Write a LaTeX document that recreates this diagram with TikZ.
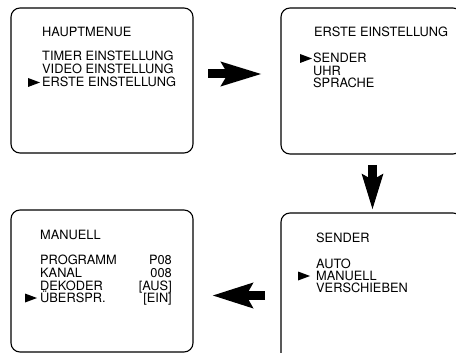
\documentclass[tikz,border=0pt]{standalone}
\usepackage{fontspec}
\setmainfont{TeX Gyre Heros}
\usetikzlibrary{arrows.meta}

\tikzset{
	screen/.style={draw, line width=1.1pt, rounded corners=9pt, inner sep=0pt},
	item/.style={anchor=base west, inner sep=0pt, font=\fontsize{12.8}{13}\selectfont},
	value/.style={item, anchor=base east},
	bigarrow/.style={line width=9pt, -{Stealth[length=40pt, width=23pt, inset=6pt]}},
}
\newcommand{\pointer}[2]{\fill (#1,#2) -- ++(12,-4.5) -- ++(-12,-4.5) -- cycle;}

\begin{document}
\begin{tikzpicture}[x=1pt, y=-1pt]
	\useasboundingbox (0,0) rectangle (456,353);

	\node[screen, minimum width=182pt, minimum height=145pt] (haupt) at (102,80.5) {};
	\node[screen, minimum width=181pt, minimum height=146pt] (erste) at (371.5,81) {};
	\node[screen, minimum width=181pt, minimum height=153pt] (sender) at (371.5,289.5) {};
	\node[screen, minimum width=182pt, minimum height=142pt] (manuell) at (102,281) {};

	\coordinate (R1) at (208,74);
	\coordinate (R2) at (262,74);
	\coordinate (D1) at (372.5,165);
	\coordinate (D2) at (372.5,210);
	\coordinate (L1) at (265,295.5);
	\coordinate (L2) at (212,295.5);

	\draw [bigarrow] (R1) -- (R2);
	\draw [bigarrow, -{Stealth[length=35pt, width=20pt, inset=5pt]}] (D1) -- (D2);
	\draw [bigarrow, -{Stealth[length=40pt, width=24pt, inset=6pt]}] (L1) -- (L2);

	% Hauptmenue
	\node[item] (hauptTitle) at (42,37) {HAUPTMENUE};
	\foreach \entry [count=\i] in {TIMER EINSTELLUNG, VIDEO EINSTELLUNG, ERSTE EINSTELLUNG}
		\node[item] (haupt\i) at (42,48+13*\i) {\entry};
	\pointer{28}{87}

	% Erste Einstellung
	\node[item] (ersteTitle) at (314,37) {ERSTE EINSTELLUNG};
	\foreach \entry [count=\i] in {SENDER, UHR, SPRACHE}
		\node[item] (erste\i) at (313,50.5+12.5*\i) {\entry};
	\pointer{300}{63}

	% Sender
	\node[item] (senderTitle) at (316,242.5) {SENDER};
	\foreach \entry [count=\i] in {AUTO, MANUELL, VERSCHIEBEN}
		\node[item] (sender\i) at (316,256.5+12*\i) {\entry};
	\pointer{298}{280.5}

	% Manuell
	\node[item] (manuellTitle) at (40,240) {MANUELL};
	\foreach \entry/\val [count=\i] in {PROGRAMM/P08, KANAL/008, DEKODER/[AUS], ÜBERSPR./[EIN]} {
		\node[item] (manuell\i) at (40,252.5+12.5*\i) {\entry};
		\node[value] (manuellVal\i) at (172,252.5+12.5*\i) {\val};
	}
	\pointer{25}{302.5}
\end{tikzpicture}
\end{document}
